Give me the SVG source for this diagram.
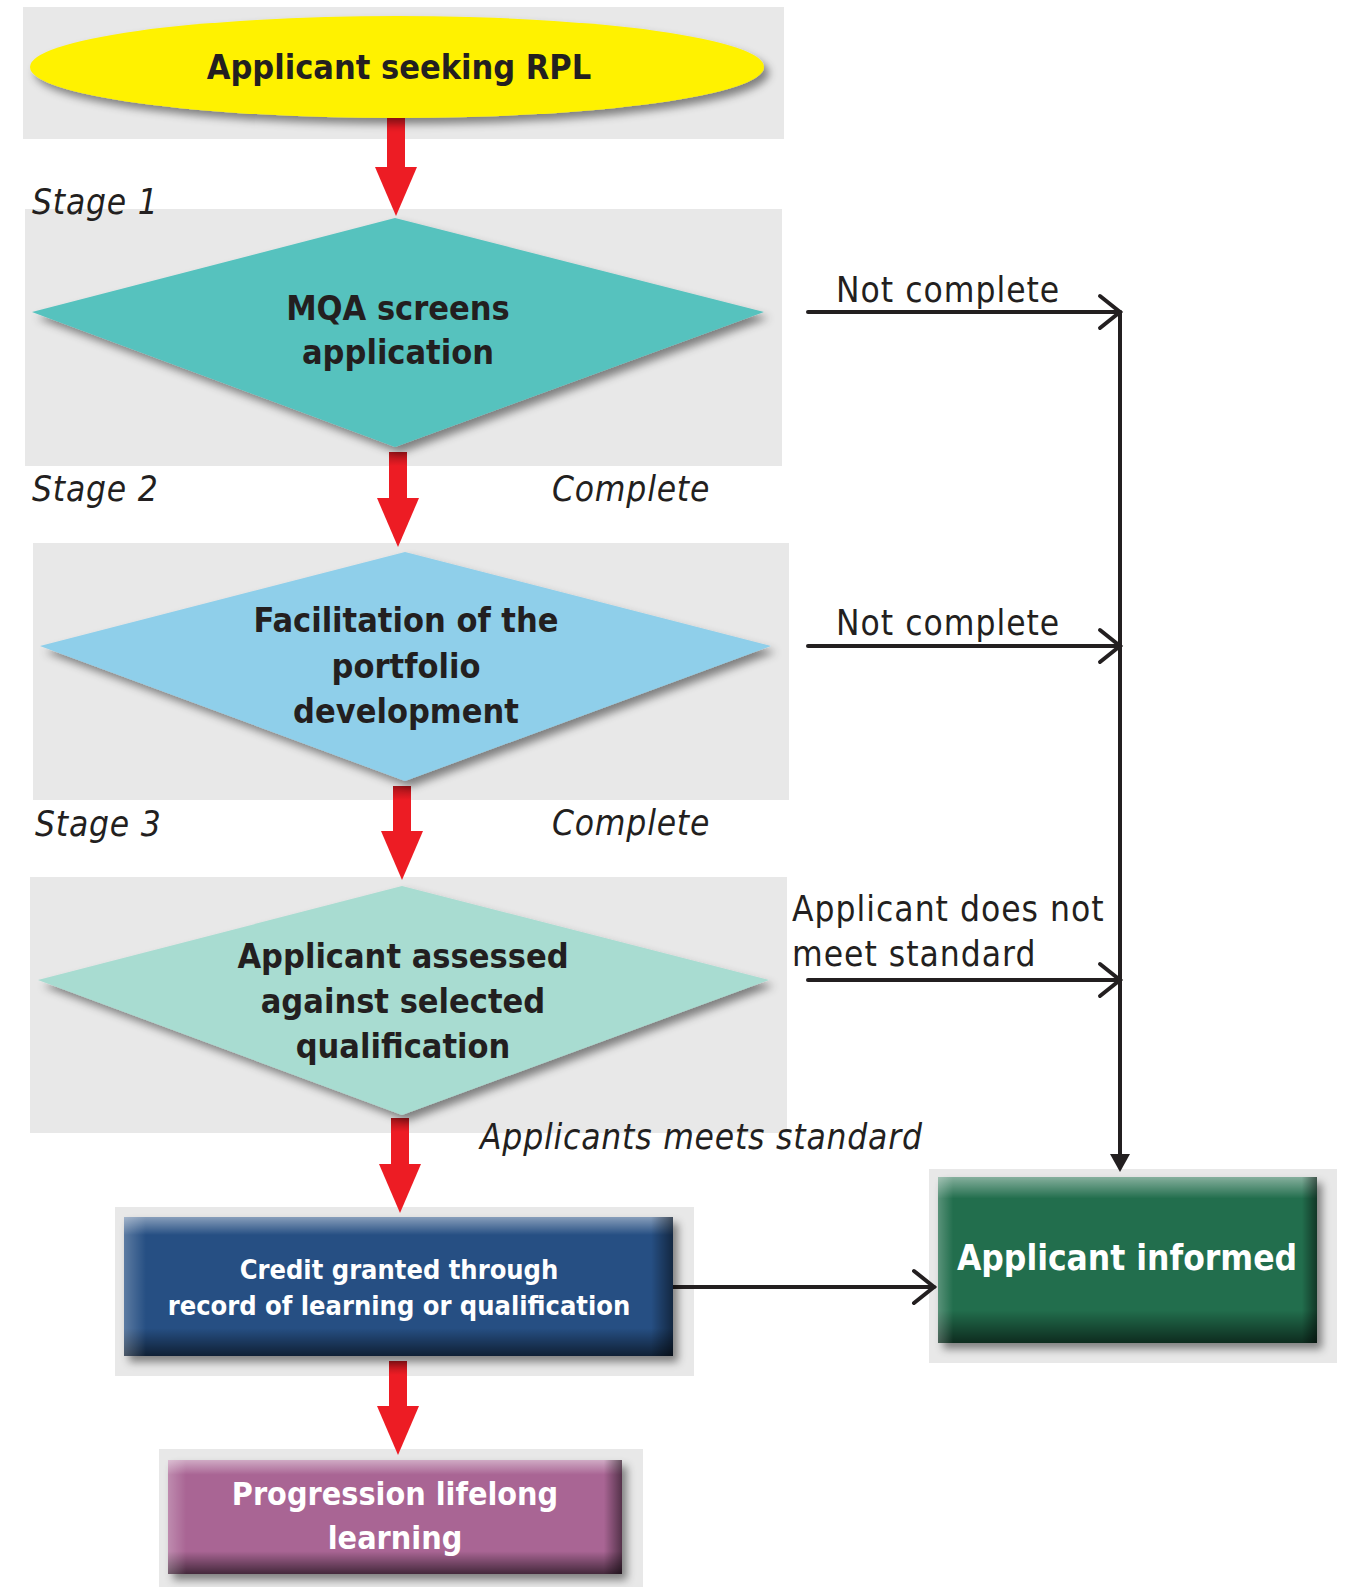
<svg xmlns="http://www.w3.org/2000/svg" width="1352" height="1587" viewBox="0 0 1352 1587">
<style>
.panel{fill:#e8e8e8}
.nt{font-family:"DejaVu Sans Condensed","DejaVu Sans",sans-serif;font-weight:bold;font-size:34px;fill:#231f20;text-anchor:middle}
.wt{font-family:"DejaVu Sans Condensed","DejaVu Sans",sans-serif;font-weight:bold;font-size:27px;fill:#ffffff;text-anchor:middle}
.lbl{font-family:"DejaVu Sans Condensed","DejaVu Sans",sans-serif;font-size:35px;letter-spacing:1px;fill:#231f20}
.it{font-family:"DejaVu Sans Condensed","DejaVu Sans",sans-serif;font-style:italic;font-size:35px;letter-spacing:0.8px;fill:#231f20}
.red{stroke:#ed1c24;stroke-width:18;fill:none}
.blk{stroke:#231f20;stroke-width:4;fill:none;stroke-linecap:round}
</style>
<defs>
<filter id="sh" x="-10%" y="-10%" width="125%" height="130%">
<feDropShadow dx="5" dy="6" stdDeviation="4" flood-color="#000" flood-opacity="0.45"/>
</filter>
<marker id="redHead" markerUnits="userSpaceOnUse" viewBox="0 -22 49 44" markerWidth="49" markerHeight="44" refX="0" refY="0" orient="auto">
<path d="M0,-21 L49,0 L0,21 z" fill="#ed1c24"/>
</marker>
<marker id="chev" markerUnits="userSpaceOnUse" viewBox="-26 -22 30 44" markerWidth="30" markerHeight="44" refX="0" refY="0" orient="auto">
<path d="M-20,-16 L0,0 L-20,16" fill="none" stroke="#231f20" stroke-width="4" stroke-linecap="round" stroke-linejoin="miter"/>
</marker>
<marker id="blkHead" markerUnits="userSpaceOnUse" viewBox="0 -11 18 22" markerWidth="18" markerHeight="22" refX="0" refY="0" orient="auto">
<path d="M0,-10 L18,0 L0,10 z" fill="#231f20"/>
</marker>
<linearGradient id="bevV" x1="0" y1="0" x2="0" y2="1">
<stop offset="0" stop-color="#fff" stop-opacity="0.45"/>
<stop offset="0.13" stop-color="#fff" stop-opacity="0"/>
<stop offset="0.8" stop-color="#000" stop-opacity="0"/>
<stop offset="1" stop-color="#000" stop-opacity="0.6"/>
</linearGradient>
<linearGradient id="bevH" x1="0" y1="0" x2="1" y2="0">
<stop offset="0" stop-color="#fff" stop-opacity="0.25"/>
<stop offset="0.04" stop-color="#fff" stop-opacity="0"/>
<stop offset="0.96" stop-color="#000" stop-opacity="0"/>
<stop offset="1" stop-color="#000" stop-opacity="0.5"/>
</linearGradient>
<linearGradient id="shaftShade" x1="0" y1="0" x2="0" y2="1">
<stop offset="0" stop-color="#000" stop-opacity="0.3"/>
<stop offset="1" stop-color="#000" stop-opacity="0"/>
</linearGradient>
</defs>
<rect width="1352" height="1587" fill="#ffffff"/>

<!-- panels -->
<rect class="panel" x="23" y="7" width="761" height="132"/>
<rect class="panel" x="25" y="209" width="757" height="257"/>
<rect class="panel" x="33" y="543" width="756" height="257"/>
<rect class="panel" x="30" y="877" width="757" height="256"/>
<rect class="panel" x="115" y="1207" width="579" height="169"/>
<rect class="panel" x="929" y="1169" width="408" height="194"/>
<rect class="panel" x="159" y="1449" width="484" height="138"/>

<g id="connectors">
<line class="red" x1="396" y1="118" x2="396" y2="167" marker-end="url(#redHead)"/>
<line class="red" x1="398" y1="452" x2="398" y2="498" marker-end="url(#redHead)"/>
<line class="red" x1="402" y1="786" x2="402" y2="831" marker-end="url(#redHead)"/>
<line class="red" x1="400" y1="1118" x2="400" y2="1164" marker-end="url(#redHead)"/>
<line class="red" x1="398" y1="1361" x2="398" y2="1406" marker-end="url(#redHead)"/>
<rect x="389" y="452" width="18" height="14" fill="url(#shaftShade)"/>
<rect x="393" y="786" width="18" height="14" fill="url(#shaftShade)"/>
<rect x="391" y="1118" width="18" height="14" fill="url(#shaftShade)"/>
<rect x="389" y="1361" width="18" height="14" fill="url(#shaftShade)"/>
<line class="blk" x1="808" y1="312" x2="1120" y2="312" marker-end="url(#chev)"/>
<line class="blk" x1="808" y1="646" x2="1120" y2="646" marker-end="url(#chev)"/>
<line class="blk" x1="808" y1="980" x2="1120" y2="980" marker-end="url(#chev)"/>
<line class="blk" x1="1120" y1="312" x2="1120" y2="1154" stroke-linecap="butt" marker-end="url(#blkHead)"/>
<line class="blk" x1="673" y1="1287" x2="934" y2="1287" marker-end="url(#chev)"/>
</g>

<g id="start">
<ellipse cx="397" cy="67" rx="367" ry="51" fill="#fff200" filter="url(#sh)"/>
<text class="nt" x="399" y="79">Applicant seeking RPL</text>
</g>

<g id="stage-labels">
<text class="it" x="32" y="214">Stage 1</text>
<text class="it" x="32" y="501">Stage 2</text>
<text class="it" x="35" y="836">Stage 3</text>
</g>

<g id="screen">
<polygon points="395,218 764,312 395,447 32,312" fill="#56c2be" filter="url(#sh)"/>
<text class="nt" x="398" y="320">MQA screens</text>
<text class="nt" x="398" y="364">application</text>
</g>

<g id="facilitation">
<polygon points="405,552 771,646 405,781 40,646" fill="#8fcfea" filter="url(#sh)"/>
<text class="nt" x="406" y="632">Facilitation of the</text>
<text class="nt" x="406" y="678">portfolio</text>
<text class="nt" x="406" y="723">development</text>
</g>

<g id="assessed">
<polygon points="402,886 769,980 402,1115 38,980" fill="#a8dcd1" filter="url(#sh)"/>
<text class="nt" x="403" y="968">Applicant assessed</text>
<text class="nt" x="403" y="1013">against selected</text>
<text class="nt" x="403" y="1058">qualification</text>
</g>

<g id="edge-labels">
<text class="lbl" x="836" y="302">Not complete</text>
<text class="lbl" x="836" y="635">Not complete</text>
<text class="it" x="552" y="501">Complete</text>
<text class="it" x="552" y="835">Complete</text>
<text class="lbl" x="792" y="921">Applicant does not</text>
<text class="lbl" x="792" y="966">meet standard</text>
<text class="it" x="480" y="1149">Applicants meets standard</text>
</g>

<g id="credit">
<rect x="124" y="1217" width="549" height="139" fill="#265083" filter="url(#sh)"/>
<rect x="124" y="1217" width="549" height="139" fill="url(#bevV)"/>
<rect x="124" y="1217" width="549" height="139" fill="url(#bevH)"/>
<text class="wt" x="399" y="1279">Credit granted through</text>
<text class="wt" x="399" y="1315">record of learning or qualification</text>
</g>

<g id="informed">
<rect x="938" y="1177" width="379" height="166" fill="#226e4e" filter="url(#sh)"/>
<rect x="938" y="1177" width="379" height="166" fill="url(#bevV)"/>
<rect x="938" y="1177" width="379" height="166" fill="url(#bevH)"/>
<text class="wt" x="1127" y="1270" style="font-size:35px">Applicant informed</text>
</g>

<g id="progression">
<rect x="168" y="1460" width="454" height="114" fill="#a96594" filter="url(#sh)"/>
<rect x="168" y="1460" width="454" height="114" fill="url(#bevV)"/>
<rect x="168" y="1460" width="454" height="114" fill="url(#bevH)"/>
<text class="wt" x="395" y="1505" style="font-size:32px">Progression lifelong</text>
<text class="wt" x="395" y="1549" style="font-size:32px">learning</text>
</g>
</svg>
